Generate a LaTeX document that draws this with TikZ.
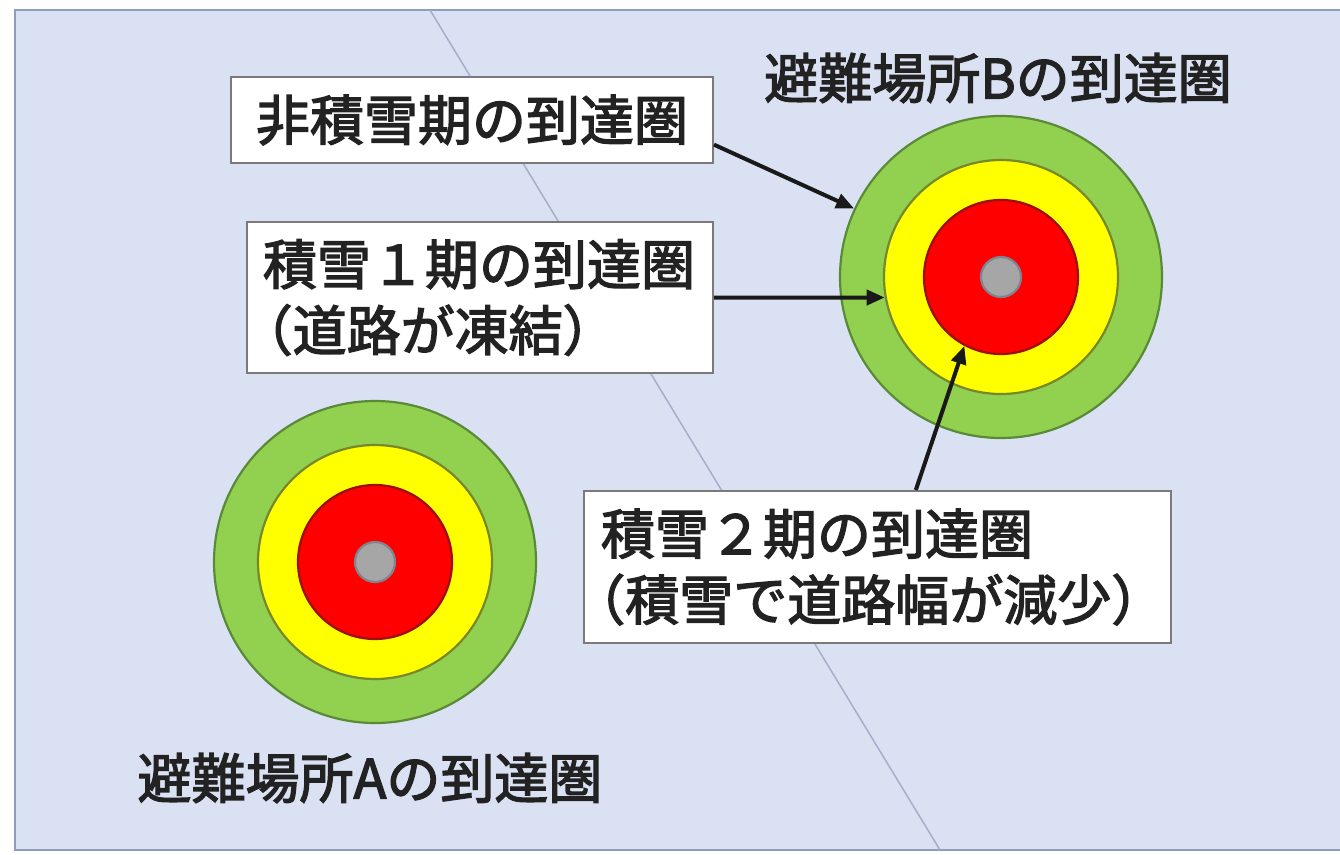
\documentclass[tikz,border=0pt]{standalone}
\usepackage{fontspec}
\setmainfont{Noto Sans CJK JP}[FakeBold=2.5]
\usetikzlibrary{arrows.meta,calc}
\definecolor{bgcol}{HTML}{DAE1F3}
\definecolor{framecol}{HTML}{8E9CC0}
\definecolor{diagcol}{HTML}{A3AFC8}
\definecolor{gfill}{HTML}{92D050}
\definecolor{gline}{HTML}{5A8A38}
\definecolor{yfill}{HTML}{FFFF00}
\definecolor{yline}{HTML}{76882A}
\definecolor{rfill}{HTML}{FF0000}
\definecolor{rline}{HTML}{9A1010}
\definecolor{cfill}{HTML}{A6A6A6}
\definecolor{cline}{HTML}{7F8590}
\definecolor{boxline}{HTML}{7A7A7A}
\definecolor{txt}{HTML}{222222}
\tikzset{
  big/.style={font=\fontsize{54}{66}\selectfont, text=txt},
  labelbox/.style={big, draw=boxline, line width=2pt, fill=white, inner ysep=0pt},
  ring/.style={circle, inner sep=0pt, line width=2.2pt},
  greenring/.style={ring, fill=gfill, draw=gline, minimum size=322pt},
  yellowring/.style={ring, fill=yfill, draw=yline, minimum size=234pt},
  redring/.style={ring, fill=rfill, draw=rline, minimum size=154pt},
  centredot/.style={ring, fill=cfill, draw=cline, minimum size=40pt},
  pointer/.style={draw=black!90, line width=4pt, -{Triangle[length=18pt,width=15pt]}},
}
\begin{document}
\begin{tikzpicture}[x=1pt,y=-1pt]
\useasboundingbox (0,0) rectangle (1340,854);
% frame and background
\draw[framecol, line width=2.5pt, fill=bgcol] (15,10) rectangle (1350,850);
\coordinate (d1) at (430,10);
\coordinate (d2) at (940,850);
\draw[diagcol, line width=1.5pt] (d1) -- (d2);
% shelter B
\node[greenring] (Bg) at (1001,277) {};
\node[yellowring] (By) at (1001,277) {};
\node[redring] (Br) at (1001,277) {};
\node[centredot] (Bc) at (1001,277) {};
% shelter A
\node[greenring] (Ag) at (375,562) {};
\node[yellowring] (Ay) at (375,562) {};
\node[redring] (Ar) at (375,562) {};
\node[centredot] (Ac) at (375,562) {};
% titles
\node[big] (tB) at (998,78) {避難場所Bの到達圏};
\node[big] (tA) at (370,778) {避難場所Aの到達圏};
% label boxes
\node[labelbox, anchor=north west, minimum width=482pt, minimum height=86pt] (b1) at (230,76) {非積雪期の到達圏};
\node[labelbox, anchor=north west, align=left, text width=434pt, inner xsep=16pt, minimum height=151pt] (b2) at (246,221)
  {積雪１期の到達圏\\\hspace*{-0.45em}（道路が凍結）};
\node[labelbox, anchor=north west, align=left, text width=553pt, inner xsep=17pt, minimum height=152pt] (b3) at (583,490)
  {積雪２期の到達圏\\\hspace*{-0.55em}（積雪で道路幅が減少）};
% pointers
\coordinate (s1) at ($(b1.north east)!0.78!(b1.south east)$);
\coordinate (s3) at ($(b3.north west)!0.565!(b3.north east)$);
\draw[pointer] (s1) -- (Bg.155);
\draw[pointer] (b2.east) -- (By.190);
\draw[pointer] (s3) -- (Br.242);
\end{tikzpicture}
\end{document}
